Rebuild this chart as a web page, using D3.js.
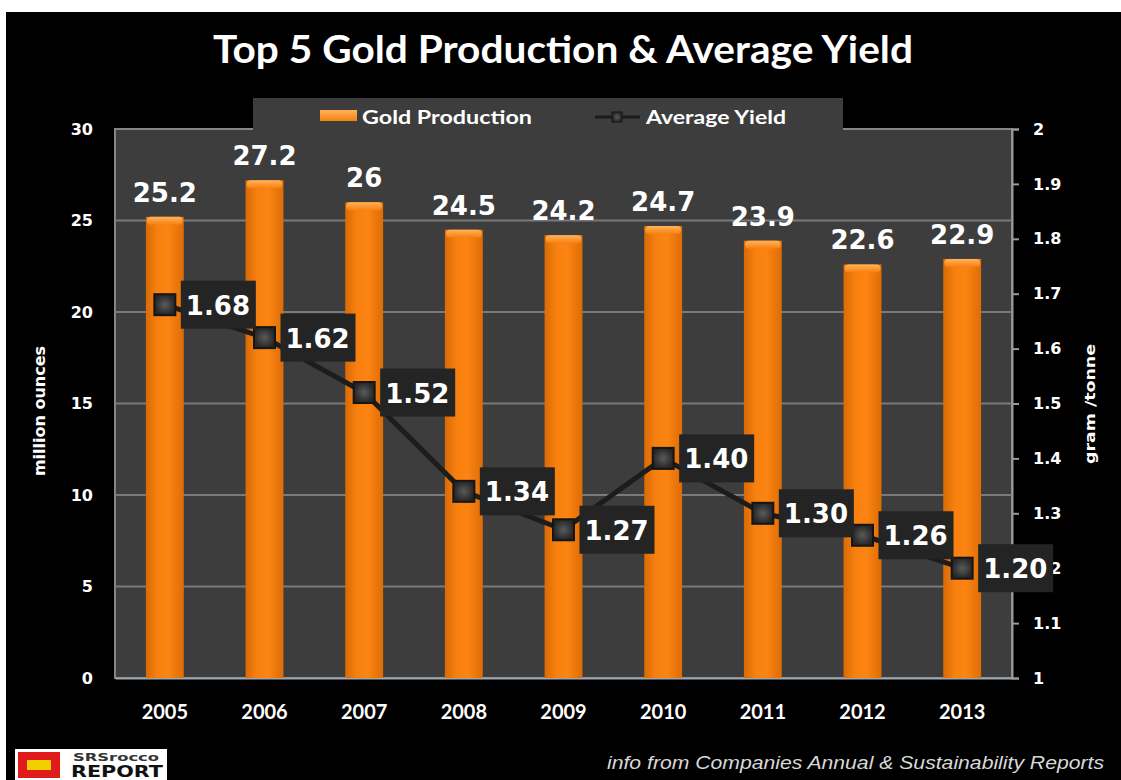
<!DOCTYPE html>
<html>
<head>
<meta charset="utf-8">
<script src="https://cdn.jsdelivr.net/npm/d3@7"></script>
<style>
  html, body { margin: 0; padding: 0; background: #ffffff; }
  svg { display: block; }
</style>
</head>
<body>
<svg id="chart" width="1121" height="780"></svg>
<script>
// Data
const years = ["2005", "2006", "2007", "2008", "2009", "2010", "2011", "2012", "2013"];
const production = [25.2, 27.2, 26, 24.5, 24.2, 24.7, 23.9, 22.6, 22.9];      // million ounces
const yieldValues = [1.68, 1.62, 1.52, 1.34, 1.27, 1.40, 1.30, 1.26, 1.20];  // gram / tonne
const yieldLabels = ["1.68", "1.62", "1.52", "1.34", "1.27", "1.40", "1.30", "1.26", "1.20"];
const leftTicks = [0, 5, 10, 15, 20, 25, 30];
const rightTicks = [1, 1.1, 1.2, 1.3, 1.4, 1.5, 1.6, 1.7, 1.8, 1.9, 2];

const svg = d3.select("#chart");
const W = 1121, H = 780;

// Plot frame
const plot = { left: 115, right: 1012, top: 129, bottom: 678 };

// Background: white strip on top/left, black card
svg.append("rect").attr("width", W).attr("height", H).attr("fill", "#ffffff");
svg.append("rect").attr("x", 6).attr("y", 12).attr("width", W - 6).attr("height", H - 12).attr("fill", "#000000");

const defs = svg.append("defs");
const barGrad = defs.append("linearGradient").attr("id", "barGrad").attr("x1", "0").attr("x2", "1").attr("y1", "0").attr("y2", "0");
barGrad.append("stop").attr("offset", "0%").attr("stop-color", "#d96a06");
barGrad.append("stop").attr("offset", "30%").attr("stop-color", "#f7800f");
barGrad.append("stop").attr("offset", "60%").attr("stop-color", "#fb8412");
barGrad.append("stop").attr("offset", "100%").attr("stop-color", "#de6c06");

const capGrad = defs.append("linearGradient").attr("id", "capGrad").attr("x1", "0").attr("x2", "0").attr("y1", "0").attr("y2", "1");
capGrad.append("stop").attr("offset", "0%").attr("stop-color", "#ffb35c");
capGrad.append("stop").attr("offset", "100%").attr("stop-color", "#f7800f");

const markGrad = defs.append("radialGradient").attr("id", "markGrad");
markGrad.append("stop").attr("offset", "0%").attr("stop-color", "#5a5a5a");
markGrad.append("stop").attr("offset", "100%").attr("stop-color", "#262626");

// Scales
const x = d3.scaleBand().domain(years).range([plot.left, plot.right]).paddingInner(0.62).paddingOuter(0.31);
const yL = d3.scaleLinear().domain([0, 30]).range([plot.bottom, plot.top]);
const yR = d3.scaleLinear().domain([1, 2]).range([plot.bottom, plot.top]);
const cx = d => x(d) + x.bandwidth() / 2;

// Plot area
svg.append("rect")
  .attr("x", plot.left).attr("y", plot.top)
  .attr("width", plot.right - plot.left).attr("height", plot.bottom - plot.top)
  .attr("fill", "#3d3d3d").attr("stroke", "#858585").attr("stroke-width", 2);

// Legend tab sitting on the plot frame
svg.append("rect").attr("x", 253).attr("y", 98).attr("width", 590).attr("height", 32).attr("fill", "#3d3d3d");

// Gridlines
svg.append("g").selectAll("line")
  .data(leftTicks.filter(t => t > 0 && t < 30))
  .join("line")
  .attr("x1", plot.left).attr("x2", plot.right)
  .attr("y1", d => yL(d)).attr("y2", d => yL(d))
  .attr("stroke", "#7a7a7a").attr("stroke-width", 2);

// Left axis
const leftAxis = svg.append("g")
  .attr("transform", `translate(${plot.left},0)`)
  .call(d3.axisLeft(yL).tickValues(leftTicks).tickSize(0).tickPadding(22));
leftAxis.select(".domain").remove();
leftAxis.selectAll("text")
  .attr("fill", "#ffffff").attr("font-family", "DejaVu Sans").attr("font-weight", "bold").attr("font-size", 16);

// Right axis
const rightAxis = svg.append("g")
  .attr("transform", `translate(${plot.right},0)`)
  .call(d3.axisRight(yR).tickValues(rightTicks).tickSize(7).tickPadding(14).tickFormat(d3.format("~g")));
rightAxis.select(".domain").attr("stroke", "#9a9a9a").attr("stroke-width", 2);
rightAxis.selectAll("line").attr("stroke", "#9a9a9a").attr("stroke-width", 2);
rightAxis.selectAll("text")
  .attr("fill", "#ffffff").attr("font-family", "DejaVu Sans").attr("font-weight", "bold").attr("font-size", 16);

// Bottom axis labels
const bottomAxis = svg.append("g")
  .attr("transform", `translate(0,${plot.bottom})`)
  .call(d3.axisBottom(x).tickSize(0).tickPadding(27));
bottomAxis.select(".domain").attr("stroke", "#9aa6b0").attr("stroke-width", 2);
bottomAxis.selectAll("text")
  .attr("fill", "#ffffff").attr("font-family", "Lato").attr("font-weight", "bold").attr("font-size", 20);

// Bars
const bars = svg.append("g");
bars.selectAll("rect.bar")
  .data(years)
  .join("rect").attr("class", "bar")
  .attr("x", d => x(d)).attr("width", x.bandwidth())
  .attr("y", (d, i) => yL(production[i]))
  .attr("height", (d, i) => yL(0) - yL(production[i]))
  .attr("fill", "url(#barGrad)");
bars.selectAll("rect.cap")
  .data(years)
  .join("rect").attr("class", "cap")
  .attr("x", d => x(d) + 1).attr("width", x.bandwidth() - 2)
  .attr("y", (d, i) => yL(production[i]))
  .attr("height", 8).attr("rx", 4)
  .attr("fill", "url(#capGrad)");

// Bar value labels
svg.append("g").selectAll("text")
  .data(years)
  .join("text")
  .attr("x", d => cx(d))
  .attr("y", (d, i) => yL(production[i]) - 15)
  .attr("text-anchor", "middle")
  .attr("fill", "#ffffff").attr("font-family", "DejaVu Sans").attr("font-weight", "bold").attr("font-size", 26)
  .text((d, i) => d3.format("~g")(production[i]));

// Yield line
const line = d3.line().x((d, i) => cx(years[i])).y(d => yR(d));
svg.append("path")
  .datum(yieldValues)
  .attr("d", line)
  .attr("fill", "none").attr("stroke", "#1c1c1c").attr("stroke-width", 5);

// Markers
const mk = 21;
svg.append("g").selectAll("rect")
  .data(yieldValues)
  .join("rect")
  .attr("x", (d, i) => cx(years[i]) - mk / 2)
  .attr("y", d => yR(d) - mk / 2)
  .attr("width", mk).attr("height", mk)
  .attr("fill", "url(#markGrad)").attr("stroke", "#151515").attr("stroke-width", 2);

// Yield value labels in dark boxes
const labelG = svg.append("g").selectAll("g")
  .data(yieldValues)
  .join("g")
  .attr("transform", (d, i) => `translate(${cx(years[i]) + 16},${yR(d)})`);
labelG.append("rect")
  .attr("x", 0).attr("y", -24).attr("width", 75).attr("height", 48)
  .attr("fill", "#242424");
labelG.append("text")
  .attr("x", 5).attr("y", 10)
  .attr("fill", "#ffffff").attr("font-family", "DejaVu Sans").attr("font-weight", "bold").attr("font-size", 26)
  .text((d, i) => yieldLabels[i]);

// Title
svg.append("text")
  .attr("x", 563).attr("y", 63)
  .attr("text-anchor", "middle")
  .attr("fill", "#ffffff").attr("font-family", "Lato").attr("font-weight", "bold").attr("font-size", 38)
  .attr("textLength", 700).attr("lengthAdjust", "spacingAndGlyphs")
  .text("Top 5 Gold Production & Average Yield");

// Legend
svg.append("rect").attr("x", 320).attr("y", 110).attr("width", 37).attr("height", 11).attr("fill", "url(#capGrad)");
svg.append("text")
  .attr("x", 362).attr("y", 124)
  .attr("fill", "#ffffff").attr("font-family", "Lato").attr("font-weight", "bold").attr("font-size", 19)
  .attr("textLength", 170).attr("lengthAdjust", "spacingAndGlyphs")
  .text("Gold Production");
svg.append("line").attr("x1", 595).attr("x2", 640).attr("y1", 117).attr("y2", 117).attr("stroke", "#1c1c1c").attr("stroke-width", 3);
svg.append("rect").attr("x", 612).attr("y", 112).attr("width", 10).attr("height", 10).attr("fill", "url(#markGrad)").attr("stroke", "#151515");
svg.append("text")
  .attr("x", 646).attr("y", 124)
  .attr("fill", "#ffffff").attr("font-family", "Lato").attr("font-weight", "bold").attr("font-size", 19)
  .attr("textLength", 140).attr("lengthAdjust", "spacingAndGlyphs")
  .text("Average Yield");

// Axis titles
svg.append("text")
  .attr("transform", "translate(45,411) rotate(-90)")
  .attr("text-anchor", "middle")
  .attr("fill", "#ffffff").attr("font-family", "DejaVu Sans").attr("font-weight", "bold").attr("font-size", 16)
  .text("million ounces");
svg.append("text")
  .attr("transform", "translate(1095,404) rotate(-90)")
  .attr("text-anchor", "middle")
  .attr("fill", "#ffffff").attr("font-family", "DejaVu Sans").attr("font-weight", "bold").attr("font-size", 14)
  .attr("textLength", 120).attr("lengthAdjust", "spacingAndGlyphs")
  .text("gram /tonne");

// Source note
svg.append("text")
  .attr("x", 1104).attr("y", 769)
  .attr("text-anchor", "end")
  .attr("fill", "#d8d8d8").attr("font-family", "Liberation Sans").attr("font-style", "italic").attr("font-size", 18)
  .attr("textLength", 497).attr("lengthAdjust", "spacingAndGlyphs")
  .text("info from Companies Annual & Sustainability Reports");

// Publisher badge
const logo = svg.append("g").attr("transform", "translate(15,749)");
logo.append("rect").attr("width", 152).attr("height", 31).attr("fill", "#ffffff");
logo.append("rect").attr("x", 3).attr("y", 3).attr("width", 42).attr("height", 26).attr("fill", "#e01b1b");
logo.append("rect").attr("x", 12).attr("y", 11).attr("width", 24).attr("height", 10).attr("fill", "#f2d000");
logo.append("text").attr("x", 58).attr("y", 12)
  .attr("fill", "#333333").attr("font-family", "DejaVu Sans").attr("font-weight", "bold").attr("font-size", 11)
  .attr("textLength", 86).attr("lengthAdjust", "spacingAndGlyphs").text("SRSrocco");
logo.append("text").attr("x", 56).attr("y", 28)
  .attr("fill", "#111111").attr("font-family", "DejaVu Sans").attr("font-weight", "bold").attr("font-size", 15)
  .attr("textLength", 92).attr("lengthAdjust", "spacingAndGlyphs").text("REPORT");
</script>
</body>
</html>
